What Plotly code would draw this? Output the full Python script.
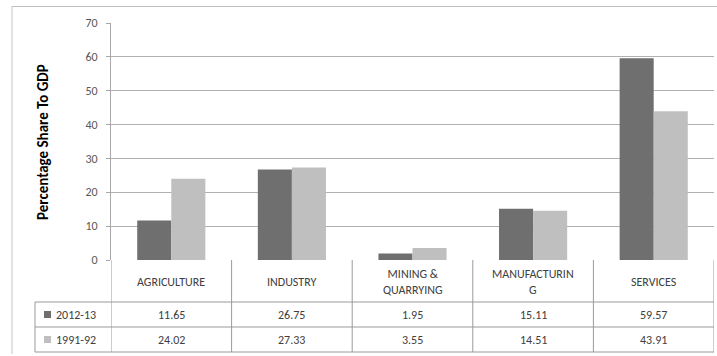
import plotly.graph_objects as go

# Sector shares of GDP (%)
categories = ["AGRICULTURE", "INDUSTRY", "MINING &amp;<br>QUARRYING", "MANUFACTURIN<br>G", "SERVICES"]
series_names = ["2012-13", "1991-92"]
values_2012 = [11.65, 26.75, 1.95, 15.11, 59.57]
values_1991 = [24.02, 27.33, 3.55, 14.51, 43.91]
series_values = [values_2012, values_1991]
series_colors = ["#6f6f6f", "#bfbfbf"]
y_ticks = [0, 10, 20, 30, 40, 50, 60, 70]

W, H = 717, 356
L, R, T, B = 111, 3, 23, 96
plot_w = W - L - R
plot_h = H - T - B
FONT = "Carlito, Liberation Sans, Arial"


def py(pix):
    """Pixel row -> paper y."""
    return (H - B - pix) / plot_h


def px(pix):
    """Pixel column -> paper x."""
    return (pix - L) / plot_w


idx = list(range(len(categories)))
fig = go.Figure()
for name, vals, col in zip(series_names, series_values, series_colors):
    fig.add_trace(go.Bar(x=idx, y=vals, name=name, marker=dict(color=col, line=dict(width=0))))

text_font = dict(family=FONT, size=12, color="#404040")
line_col = "#9a9a9a"
grid_col = "#b0b0b0"
shapes = []
annotations = []

# Table: row boundaries (pixel rows)
row_top, row1, row2, row_bot = 260, 302, 327, 352
for yy in (row1, row2, row_bot):
    shapes.append(dict(type="line", xref="paper", yref="paper", x0=px(35), x1=1.0,
                       y0=py(yy), y1=py(yy), line=dict(color=line_col, width=1)))
# Column boundaries between categories
for i in range(len(categories) + 1):
    shapes.append(dict(type="line", xref="x", yref="paper", x0=i - 0.5, x1=i - 0.5,
                       y0=py(row_top), y1=py(row_bot), line=dict(color=line_col, width=1)))
# Left edge of the series label column
shapes.append(dict(type="line", xref="paper", yref="paper", x0=px(35), x1=px(35),
                   y0=py(row1), y1=py(row_bot), line=dict(color=line_col, width=1)))
# Outer chart border
shapes.append(dict(type="line", xref="paper", yref="paper", x0=px(12), x1=px(717),
                   y0=py(6.5), y1=py(6.5), line=dict(color="#c0c0c0", width=1)))
shapes.append(dict(type="line", xref="paper", yref="paper", x0=px(12), x1=px(12),
                   y0=py(6), y1=py(354), line=dict(color="#c4c4c4", width=1)))

# Category headers
for i, c in enumerate(categories):
    annotations.append(dict(x=i, y=py((row_top + row1) / 2 + 1), xref="x", yref="paper",
                            text=c, showarrow=False, font=text_font, yanchor="middle"))
# Values rows with legend keys
row_centers = [(row1 + row2) / 2, (row2 + row_bot) / 2]
for name, vals, col, rc in zip(series_names, series_values, series_colors, row_centers):
    for i, v in enumerate(vals):
        annotations.append(dict(x=i, y=py(rc), xref="x", yref="paper", text=f"{v:.2f}",
                                showarrow=False, font=text_font, yanchor="middle"))
    annotations.append(dict(x=px(54), y=py(rc), xref="paper", yref="paper", text=name,
                            showarrow=False, font=text_font, xanchor="left", yanchor="middle"))
    shapes.append(dict(type="rect", xref="paper", yref="paper", x0=px(44), x1=px(51),
                       y0=py(rc + 3.5), y1=py(rc - 3.5), fillcolor=col, line=dict(width=0)))

# Y axis title
annotations.append(dict(x=px(43), y=py(142), xref="paper", yref="paper",
                        xanchor="center", yanchor="middle",
                        text="<b>Percentage Share To GDP</b>", textangle=-90, showarrow=False,
                        font=dict(family=FONT, size=15, color="#000000")))

fig.update_layout(
    width=W, height=H,
    margin=dict(l=L, r=R, t=T, b=B, pad=0),
    paper_bgcolor="white", plot_bgcolor="rgba(0,0,0,0)",
    barmode="group", bargap=0.435, bargroupgap=0,
    showlegend=False,
    xaxis=dict(range=[-0.5, len(categories) - 0.5], showticklabels=False, showgrid=False,
               zeroline=False, showline=False, fixedrange=True),
    yaxis=dict(range=[0, 70], tickvals=y_ticks, showgrid=True, gridcolor=grid_col, gridwidth=1,
               zeroline=False, showline=True, linecolor="#a8a8a8", linewidth=1,
               ticks="outside", ticklen=4, tickcolor="#a8a8a8",
               tickfont=dict(family=FONT, size=12, color="#595959"),
               ticklabelstandoff=6),
    shapes=shapes,
    annotations=annotations,
)

fig.write_html("out.html")
